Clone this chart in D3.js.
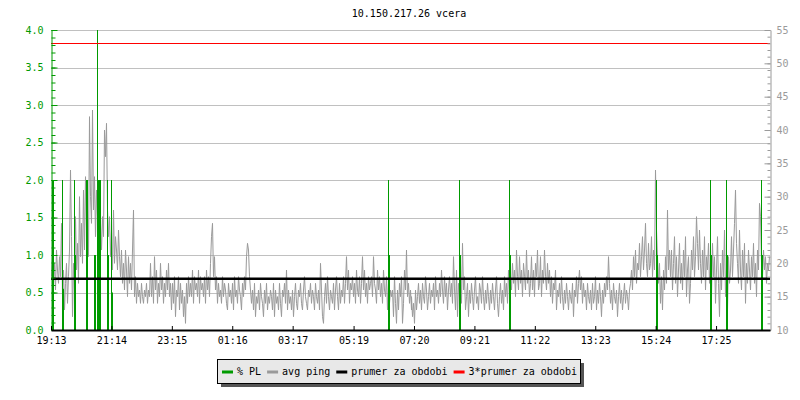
<!DOCTYPE html>
<html>
<head>
<meta charset="utf-8">
<script src="https://cdn.jsdelivr.net/npm/d3@7"></script>
<style>
  html, body { margin: 0; padding: 0; background: #ffffff; }
  svg { display: block; }
  text { font-family: "DejaVu Sans Mono", monospace; font-size: 10px; }
</style>
</head>
<body>
<div id="chart"></div>
<script>
// ---------------- DATA ----------------
const title = "10.150.217.26 vcera";

// time axis: minutes since start (19:13), 24h window
const spanMinutes = 1440;
const tickMinutes = [0, 121, 242, 363, 484, 606, 727, 848, 969, 1090, 1211, 1332];
const tickLabels = ["19:13", "21:14", "23:15", "01:16", "03:17", "05:19", "07:20", "09:21", "11:22", "13:23", "15:24", "17:25"];

const pingStep = 2;
const pingValues = [
  18,21,17,20,16,22,19,17,21,18,26,15,19,13,17,20,14,18,22,34,
  24,12,20,16,27,19,23,17,30,21,26,20,31,22,33,25,28,21,42,30,
  26,43,28,33,24,31,27,23,30,26,22,27,24,40,36,41,28,24,27,21,
  25,19,28,20,24,22,19,25,21,18,22,17,20,16,22,19,15,21,17,20,
  16,22,28,15,18,14,17,15,16,14,17,15,14,16,15,17,14,16,15,20,
  15,18,14,21,16,19,14,17,15,20,16,18,14,17,15,19,16,20,15,17,
  13,17,14,18,12,16,15,18,13,17,14,16,12,15,11,17,14,18,15,17,
  15,19,14,18,16,17,15,19,14,18,16,17,15,18,14,19,16,18,15,20,
  24,26,18,21,16,18,14,17,15,16,14,18,15,17,16,14,13,17,15,16,
  14,17,13,18,15,16,14,18,16,15,13,17,15,18,16,21,23,22,18,16,
  14,16,13,17,12,15,14,16,13,17,15,14,12,16,14,17,13,15,14,16,
  15,13,17,12,16,14,15,13,17,14,12,16,15,17,14,19,13,16,14,15,
  13,16,12,15,17,14,13,16,15,17,14,13,16,18,15,14,13,16,15,17,
  14,16,15,13,17,15,14,16,13,20,16,12,11,15,17,14,18,15,13,16,
  15,14,17,13,16,18,15,13,17,14,16,15,18,14,17,21,16,19,14,17,
  16,18,15,17,14,19,16,15,18,14,17,21,16,19,15,17,14,18,16,17,
  18,15,21,17,16,14,19,16,18,15,17,14,19,16,15,18,13,17,14,16,
  15,16,12,18,14,11,16,13,17,15,18,11,14,19,16,22,15,17,14,16,
  13,15,12,14,11,16,13,15,17,14,16,13,17,15,14,18,16,13,15,17,
  14,16,15,17,13,18,15,16,14,17,15,19,16,14,18,15,17,13,16,18,
  15,17,14,21,16,13,19,12,17,15,20,14,23,16,18,13,15,17,12,16,
  14,17,15,13,16,18,14,15,13,17,16,14,18,15,13,16,14,17,15,13,
  16,14,17,15,13,16,18,14,12,15,17,14,16,13,18,15,17,14,19,16,
  18,16,20,17,19,15,22,18,16,21,17,19,15,20,18,16,22,17,19,15,
  17,21,16,19,15,20,18,22,16,17,21,15,19,17,22,18,16,20,17,19,
  15,18,14,17,16,19,13,16,15,17,14,18,15,13,16,14,17,15,13,16,
  15,14,17,12,16,15,18,14,17,19,16,18,14,17,15,16,13,17,15,14,
  16,13,17,14,15,18,13,16,14,17,15,12,16,14,17,15,18,16,21,17,
  14,16,13,17,15,14,16,12,15,17,14,16,13,15,17,14,16,15,13,16,
  17,19,16,21,18,22,17,20,19,23,18,21,24,19,22,26,20,18,23,19,
  20,24,18,22,19,34,25,21,17,20,14,18,13,19,16,21,17,28,19,22,
  18,22,16,20,24,17,21,15,19,23,17,20,16,22,18,24,15,19,21,14,
  17,22,19,24,18,21,27,23,19,25,20,17,22,18,24,16,21,19,23,17,
  20,15,23,18,21,14,19,24,17,12,20,16,22,18,25,15,19,13,21,17,
  19,24,18,22,26,31,23,20,17,25,19,16,22,18,23,14,20,17,22,19,
  16,21,18,23,17,20,15,22,19,29,27,20,18,22,19,21,17,20,19,21
];

// packet loss events (% PL): minute, peak value, value of the wide part
const plMinutes = [2, 22, 46, 71, 86, 92, 96, 112, 120, 675, 817, 917, 1212, 1320, 1352, 1422];
const plPeak    = [2.0, 2.0, 2.0, 2.0, 1.0, 4.0, 2.0, 2.0, 2.0, 2.0, 2.0, 2.0, 2.0, 2.0, 2.0, 2.0];
const plWide    = [2.0, 0.55, 1.0, 2.0, 1.0, 2.0, 2.0, 1.0, 0.5, 1.0, 1.0, 1.0, 1.0, 1.0, 1.0, 1.0];

// period average of ping (ms)
const pingMean = 17.7;

// axes
const plDomain = [0, 4];
const msDomain = [10, 55];

const legendLabels = ["% PL", "avg ping", "prumer za obdobi", "3*prumer za obdobi"];
const colors = { pl: "#009a00", ping: "#9a9a9a", mean: "#000000", mean3: "#ff0000", grid: "#c0c0c0" };
const legendColors = [colors.pl, colors.ping, colors.mean, colors.mean3];

// ---------------- CHART ----------------
const W = 800, H = 400;
const pLeft = 51, pRight = 770, pTop = 30, pBottom = 330;

const svg = d3.select("#chart").append("svg").attr("width", W).attr("height", H);

const x = d3.scaleLinear().domain([0, spanMinutes]).range([pLeft, pRight]);
const yPL = d3.scaleLinear().domain(plDomain).range([pBottom, pTop]);
const yMs = d3.scaleLinear().domain(msDomain).range([pBottom, pTop]);

// title
svg.append("text").attr("x", 409).attr("y", 17).attr("text-anchor", "middle")
  .attr("fill", "#000").text(title);

// grid
const gridTicks = d3.range(0.5, 4.0001, 0.5);
svg.append("g").selectAll("line").data(gridTicks).join("line")
  .attr("x1", pLeft).attr("x2", pRight)
  .attr("y1", d => Math.round(yPL(d)) + 0.5).attr("y2", d => Math.round(yPL(d)) + 0.5)
  .attr("stroke", colors.grid).attr("stroke-width", 1);

// ping line
const pingData = pingValues.map((v, i) => ({ m: i * pingStep, v }));
svg.append("path").datum(pingData)
  .attr("fill", "none").attr("stroke", colors.ping).attr("stroke-width", 1)
  .attr("d", d3.line().x(d => Math.round(x(d.m)) + 0.5).y(d => yMs(d.v)));

// packet loss spikes
const plData = plMinutes.map((m, i) => ({ m, peak: plPeak[i], wide: plWide[i] }));
const plG = svg.append("g");
plG.selectAll("line.thin").data(plData).join("line").attr("class", "thin")
  .attr("x1", d => Math.round(x(d.m)) + 0.5).attr("x2", d => Math.round(x(d.m)) + 0.5)
  .attr("y1", yPL(0)).attr("y2", d => yPL(d.peak))
  .attr("stroke", colors.pl).attr("stroke-width", 1);
plG.selectAll("line.wide").data(plData).join("line").attr("class", "wide")
  .attr("x1", d => Math.round(x(d.m)) + 1).attr("x2", d => Math.round(x(d.m)) + 1)
  .attr("y1", yPL(0)).attr("y2", d => yPL(d.wide))
  .attr("stroke", colors.pl).attr("stroke-width", 2);

// mean lines
svg.append("line").attr("x1", pLeft).attr("x2", pRight)
  .attr("y1", yMs(pingMean)).attr("y2", yMs(pingMean))
  .attr("stroke", colors.mean).attr("stroke-width", 2.5);
svg.append("line").attr("x1", pLeft).attr("x2", pRight)
  .attr("y1", Math.round(yMs(3 * pingMean)) + 0.5).attr("y2", Math.round(yMs(3 * pingMean)) + 0.5)
  .attr("stroke", colors.mean3).attr("stroke-width", 1);

// left axis (PL)
const leftMinor = svg.append("g").attr("transform", `translate(${pLeft + 0.5},0)`)
  .call(d3.axisLeft(yPL).tickValues(d3.range(0, 4.0001, 0.1)).tickSizeInner(-4).tickSizeOuter(0).tickFormat(""));
leftMinor.select(".domain").remove();
leftMinor.selectAll("line").attr("stroke", colors.pl);
const leftAxis = svg.append("g").attr("transform", `translate(${pLeft + 0.5},0)`)
  .call(d3.axisLeft(yPL).tickValues(gridTicks.concat([0])).tickSizeInner(-6).tickSizeOuter(0).tickPadding(8).tickFormat(d3.format(".1f")));
leftAxis.select(".domain").attr("stroke", colors.pl);
leftAxis.selectAll("line").attr("stroke", colors.pl);
leftAxis.selectAll("text").attr("fill", colors.pl).style("font-family", "DejaVu Sans Mono").style("font-size", "10px");

// right axis (ms)
const rightMinor = svg.append("g").attr("transform", `translate(${pRight + 0.5},0)`)
  .call(d3.axisRight(yMs).tickValues(d3.range(10, 55.001, 1)).tickSizeInner(-3).tickSizeOuter(0).tickFormat(""));
rightMinor.select(".domain").remove();
rightMinor.selectAll("line").attr("stroke", colors.ping);
const rightAxis = svg.append("g").attr("transform", `translate(${pRight + 0.5},0)`)
  .call(d3.axisRight(yMs).tickValues(d3.range(10, 55.001, 5)).tickSizeInner(-6).tickSizeOuter(0).tickPadding(6));
rightAxis.select(".domain").attr("stroke", colors.ping);
rightAxis.selectAll("line").attr("stroke", colors.ping);
rightAxis.selectAll("text").attr("fill", colors.ping).style("font-family", "DejaVu Sans Mono").style("font-size", "10px");

// bottom axis
const bottomAxis = svg.append("g").attr("transform", `translate(0,${pBottom})`)
  .call(d3.axisBottom(x).tickValues(tickMinutes).tickFormat((d, i) => tickLabels[i])
    .tickSizeInner(-4).tickSizeOuter(0).tickPadding(7));
bottomAxis.select(".domain").attr("stroke", "#000").attr("stroke-width", 2);
bottomAxis.selectAll("line").attr("stroke", "#000");
bottomAxis.selectAll("text").attr("fill", "#000").style("font-family", "DejaVu Sans Mono").style("font-size", "10px");

// legend
const lg = svg.append("g");
lg.append("rect").attr("x", 221).attr("y", 363).attr("width", 363).attr("height", 24).attr("fill", "#555555");
lg.append("rect").attr("x", 217.5).attr("y", 359.5).attr("width", 363).attr("height", 24)
  .attr("fill", "#e8e8e8").attr("stroke", "#000").attr("stroke-width", 1);
let lx = 222;
legendLabels.forEach((lab, i) => {
  lg.append("line").attr("x1", lx).attr("x2", lx + 11).attr("y1", 372).attr("y2", 372)
    .attr("stroke", legendColors[i]).attr("stroke-width", 3);
  const t = lg.append("text").attr("x", lx + 15).attr("y", 375).attr("fill", "#000").text(lab);
  lx = lx + 15 + t.node().getComputedTextLength() + 6;
});
</script>
</body>
</html>
